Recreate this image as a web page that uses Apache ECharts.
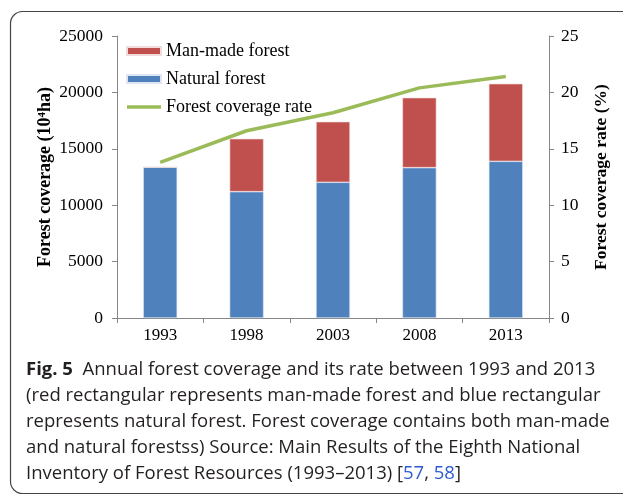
<!DOCTYPE html>
<html>
<head>
<meta charset="utf-8">
<script src="https://cdn.jsdelivr.net/npm/echarts@6/dist/echarts.min.js"></script>
<style>
  html, body { margin: 0; padding: 0; background: #fff; }
  #chart { width: 623px; height: 496px; }
</style>
</head>
<body>
<div id="chart"></div>
<script>
// data
const years = ['1993', '1998', '2003', '2008', '2013'];
const naturalForest = [13370, 11200, 12030, 13330, 13890];
const manMadeForest = [0, 4694, 5370, 6200, 6880];
const coverageRate = [13.8, 16.6, 18.2, 20.4, 21.4];
const leftTicks = [0, 5000, 10000, 15000, 20000, 25000];
const rightTicks = [0, 5, 10, 15, 20, 25];

const serif = '"Liberation Serif", "Times New Roman", serif';
const axisGray = '#868686';

const chart = echarts.init(document.getElementById('chart'));

const option = {
    animation: false,
    grid: { left: 117, right: 74, top: 36, bottom: 178 },
    legend: {
        orient: 'vertical',
        left: 121,
        top: 37,
        itemWidth: 34,
        itemHeight: 8,
        itemGap: 10,
        textStyle: { fontFamily: serif, fontSize: 18, color: '#000' },
        data: [
            { name: 'Man-made forest', icon: 'rect' },
            { name: 'Natural forest', icon: 'rect' },
            { name: 'Forest coverage rate', icon: 'path://M0,0L100,0L100,10L0,10Z' }
        ]
    },
    xAxis: {
        type: 'category',
        data: years,
        axisLine: { lineStyle: { color: axisGray, width: 1 } },
        axisTick: { show: true, length: 5, lineStyle: { color: axisGray } },
        axisLabel: { fontFamily: serif, fontSize: 17, color: '#000', margin: 9 }
    },
    yAxis: [
        {
            type: 'value',
            min: leftTicks[0],
            max: leftTicks[leftTicks.length - 1],
            interval: 5000,
            name: 'Forest coverage (10⁴ha)',
            nameLocation: 'middle',
            nameGap: 63,
            nameMoveOverlap: false,
            nameTextStyle: { fontFamily: serif, fontSize: 18, fontWeight: 'bold', color: '#000' },
            axisLine: { show: true, lineStyle: { color: axisGray } },
            axisTick: { show: true, length: 5, lineStyle: { color: axisGray } },
            axisLabel: { fontFamily: serif, fontSize: 17.5, color: '#000', margin: 14, formatter: v => String(v) },
            splitLine: { show: false }
        },
        {
            type: 'value',
            min: rightTicks[0],
            max: rightTicks[rightTicks.length - 1],
            interval: 5,
            name: 'Forest coverage rate (%)',
            nameLocation: 'middle',
            nameGap: 43,
            nameRotate: 90,
            nameMoveOverlap: false,
            nameTextStyle: { fontFamily: serif, fontSize: 17.5, fontWeight: 'bold', color: '#000' },
            axisLine: { show: true, lineStyle: { color: axisGray } },
            axisTick: { show: true, length: 5, lineStyle: { color: axisGray } },
            axisLabel: { fontFamily: serif, fontSize: 17.5, color: '#000', margin: 12 },
            splitLine: { show: false }
        }
    ],
    series: [
        {
            name: 'Natural forest',
            type: 'bar',
            stack: 'forest',
            barWidth: 34,
            data: naturalForest,
            itemStyle: { color: '#4F81BD', borderColor: '#dde6f2', borderWidth: 0.6 }
        },
        {
            name: 'Man-made forest',
            type: 'bar',
            stack: 'forest',
            barWidth: 34,
            data: manMadeForest,
            itemStyle: { color: '#C0504D', borderColor: '#f2dcdb', borderWidth: 0.6 }
        },
        {
            name: 'Forest coverage rate',
            type: 'line',
            yAxisIndex: 1,
            symbol: 'none',
            data: coverageRate,
            lineStyle: { color: '#9BBB59', width: 3.5 },
            itemStyle: { color: '#9BBB59' }
        }
    ],
    graphic: [
        {
            type: 'rect',
            shape: { x: 10.5, y: 11.5, width: 700, height: 482, r: 12 },
            style: { fill: 'none', stroke: '#444', lineWidth: 1.2 },
            z: -1
        },
        {
            type: 'text',
            left: 26,
            top: 357,
            style: {
                text: '{b|Fig. 5}  Annual forest coverage and its rate between 1993 and 2013\n' +
                    '(red rectangular represents man-made forest and blue rectangular\n' +
                    'represents natural forest. Forest coverage contains both man-made\n' +
                    'and natural forestss) Source: Main Results of the Eighth National\n' +
                    'Inventory of Forest Resources (1993–2013) [{l|57}, {l|58}]',
                font: '18.5px "Open Sans", "Noto Sans", sans-serif',
                fill: '#231f20',
                lineHeight: 26,
                rich: {
                    b: { fontWeight: 'bold', fontSize: 18.5, fontFamily: '"Open Sans", sans-serif', fill: '#231f20', lineHeight: 26 },
                    l: { fill: '#2e5ccf', fontSize: 18.5, fontFamily: '"Open Sans", sans-serif', lineHeight: 26 }
                }
            }
        }
    ]
};

chart.setOption(option);
</script>
</body>
</html>
